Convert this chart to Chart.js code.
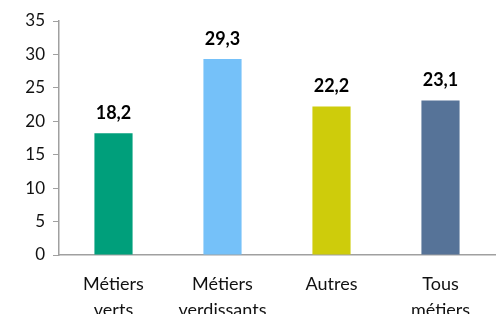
<!DOCTYPE html>
<html>
<head>
<meta charset="utf-8">
<script src="https://cdn.jsdelivr.net/npm/chart.js@4.4.0/dist/chart.umd.min.js"></script>
<style>
  html, body { margin: 0; padding: 0; background: #fff; }
  #wrap { width: 499px; height: 314px; }
</style>
</head>
<body>
<div id="wrap"><canvas id="grafik" width="499" height="314"></canvas></div>
<script>
// data
const kategori = [['Métiers', 'verts'], ['Métiers', 'verdissants'], ['Autres'], ['Tous', 'métiers']];
const nilai = [18.2, 29.3, 22.2, 23.1];
const warna = ['#009f7b', '#75c1f9', '#cecc0b', '#567398'];
const yTicks = [0, 5, 10, 15, 20, 25, 30, 35];

const fontUtama = 'Lato, Calibri, Carlito, "DejaVu Sans", sans-serif';

// label nilai di atas batang
const labelNilai = {
    id: 'labelNilai',
    afterDatasetsDraw(chart) {
        const ctx = chart.ctx;
        const meta = chart.getDatasetMeta(0);
        ctx.save();
        ctx.font = 'bold 18px ' + fontUtama;
        ctx.fillStyle = '#000';
        ctx.textAlign = 'center';
        ctx.textBaseline = 'middle';
        meta.data.forEach(function (bar, i) {
            ctx.fillText(nilai[i].toFixed(1).replace('.', ','), bar.x, bar.y - 20);
        });
        ctx.restore();
    }
};

new Chart(document.getElementById('grafik'), {
    type: 'bar',
    data: {
        labels: kategori,
        datasets: [{
            data: nilai,
            backgroundColor: warna,
            barPercentage: 0.35,
            categoryPercentage: 1
        }]
    },
    options: {
        responsive: false,
        animation: false,
        layout: { padding: { top: 21, right: 4, left: 0, bottom: 0 } },
        plugins: {
            legend: { display: false },
            tooltip: { enabled: false }
        },
        scales: {
            x: {
                grid: { display: false },
                border: { color: '#a0a0a0', width: 1.5 },
                ticks: {
                    color: '#111',
                    padding: 9,
                    maxRotation: 0,
                    autoSkip: false,
                    font: { family: fontUtama, size: 18, lineHeight: 1.4 }
                },
                afterFit(axis) { axis.height = 59; }
            },
            y: {
                min: 0,
                max: 35,
                afterBuildTicks(axis) { axis.ticks = yTicks.map(v => ({ value: v })); },
                grid: {
                    drawOnChartArea: false,
                    drawTicks: true,
                    tickLength: 6,
                    color: '#a0a0a0'
                },
                border: { color: '#a0a0a0', width: 1.5 },
                ticks: {
                    color: '#111',
                    padding: 8,
                    font: { family: fontUtama, size: 17 }
                },
                afterFit(axis) { axis.width = 59; }
            }
        }
    },
    plugins: [labelNilai]
});
</script>
</body>
</html>
